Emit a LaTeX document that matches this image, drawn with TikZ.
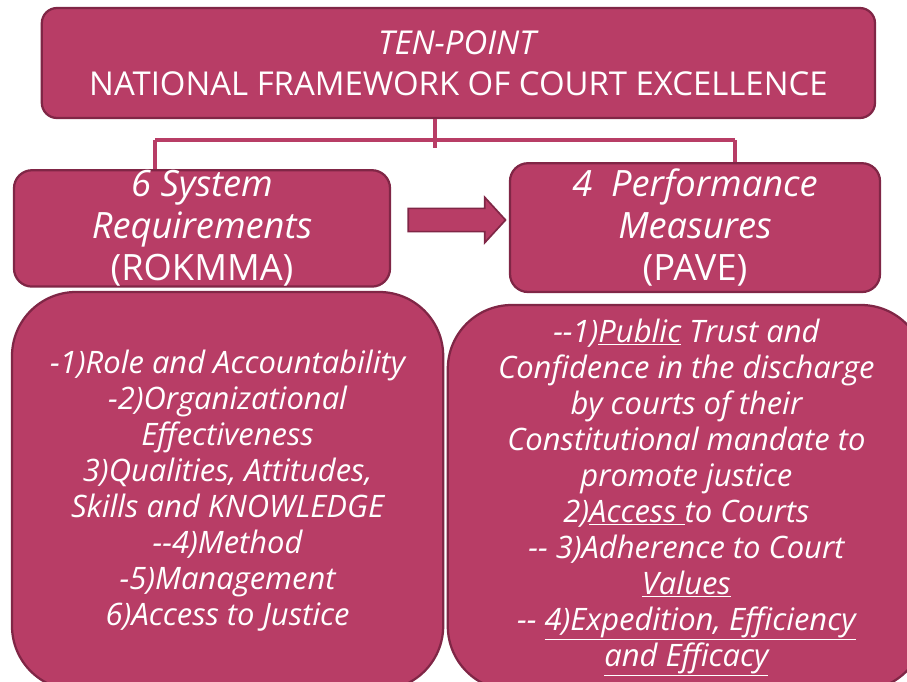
\documentclass[tikz,border=0pt]{standalone}
\usepackage{fontspec}
\setmainfont{Open Sans}
\usepackage{xcolor}
\usetikzlibrary{shapes.arrows}
\usetikzlibrary{calc}

\definecolor{courtfill}{RGB}{184,61,102}
\definecolor{courtedge}{RGB}{128,38,70}

\begin{document}
\begin{tikzpicture}[scale=1]
        % ================= 样式定义 =================
        \tikzset{
            % 圆角方框:洋红底,深色边,白字
            panel/.style={draw=courtedge, line width=1.6pt, fill=courtfill, text=white,
                align=center, inner sep=0pt},
            % 标题框字体
            headfont/.style={font=\fontsize{25.8}{30}\selectfont},
            % 正文框字体 (斜体)
            bodyfont/.style={font=\fontsize{22}{25.6}\selectfont\itshape},
            % 连接线
            link/.style={draw=courtfill, line width=2.8pt}
        }

        % 画布大小
        \useasboundingbox (0,0) rectangle (22.675,-17.05);

        % ================= 绘图部分 =================

        % 顶部总标题
        \node[panel, rounded corners=0.38cm, minimum width=20.83cm, minimum height=2.75cm,
              font=\fontsize{23.4}{29.2}\selectfont]
            (top) at (11.46,-1.575) {\textit{TEN-POINT}\\NATIONAL FRAMEWORK OF COURT EXCELLENCE};

        % 左侧标题
        \node[panel, headfont, rounded corners=0.45cm, minimum width=9.4cm, minimum height=2.83cm]
            (syshead) at (5.05,-5.71) {\textit{6 System}\\\textit{Requirements}\\(ROKMMA)};

        % 右侧标题
        \node[panel, headfont, rounded corners=0.45cm, minimum width=9.25cm, minimum height=3.22cm]
            (perfhead) at (17.375,-5.69) {\textit{4~ Performance}\\\textit{Measures}\\(PAVE)};

        % 中间的粗箭头
        \node[single arrow, draw=courtedge, line width=1.2pt, fill=courtfill,
              minimum height=2.43cm, minimum width=1.1cm, single arrow head extend=0.275cm,
              single arrow tip angle=95, inner sep=0.27cm]
            (flow) at (11.29,-5.5) {};

        % 左侧正文
        \node[panel, bodyfont, rounded corners=1.6cm, minimum width=10.78cm, minimum height=9.95cm]
            (sysbody) at (5.69,-12.275) {
                -1)Role and Accountability\\
                -2)Organizational\\
                Effectiveness\\
                3)Qualities, Attitudes,\\
                Skills and KNOWLEDGE\\
                -{}-4)Method\\
                -5)Management\\
                6)Access to Justice};

        % 右侧正文 (右边超出画布)
        \node[panel, bodyfont, rounded corners=1.6cm, minimum width=11.93cm, minimum height=9.63cm]
            (perfbody) at (17.16,-12.44) {
                -{}-1)\underline{Public} Trust and\\
                Confidence in the discharge\\
                by courts of their\\
                Constitutional mandate to\\
                promote justice\\
                2)\underline{Access }to Courts\\
                -{}- 3)Adherence to Court\\
                \underline{Values}\\
                -{}- \underline{4)Expedition, Efficiency}\\
                \underline{and Efficacy}};

        % 连接线:从总标题分到两侧
        \coordinate (hub) at (10.875,-3.5);
        \coordinate (lj) at (3.875,-3.5);
        \coordinate (rj) at (18.375,-3.5);
        \draw[link] (top.south -| hub) -- ($(hub)+(0,-0.2)$);
        \draw[link] (lj) -- (rj);
        \draw[link] (lj) -- (lj |- syshead.north);
        \draw[link] (rj) -- (rj |- perfhead.north);

    \end{tikzpicture}
\end{document}
